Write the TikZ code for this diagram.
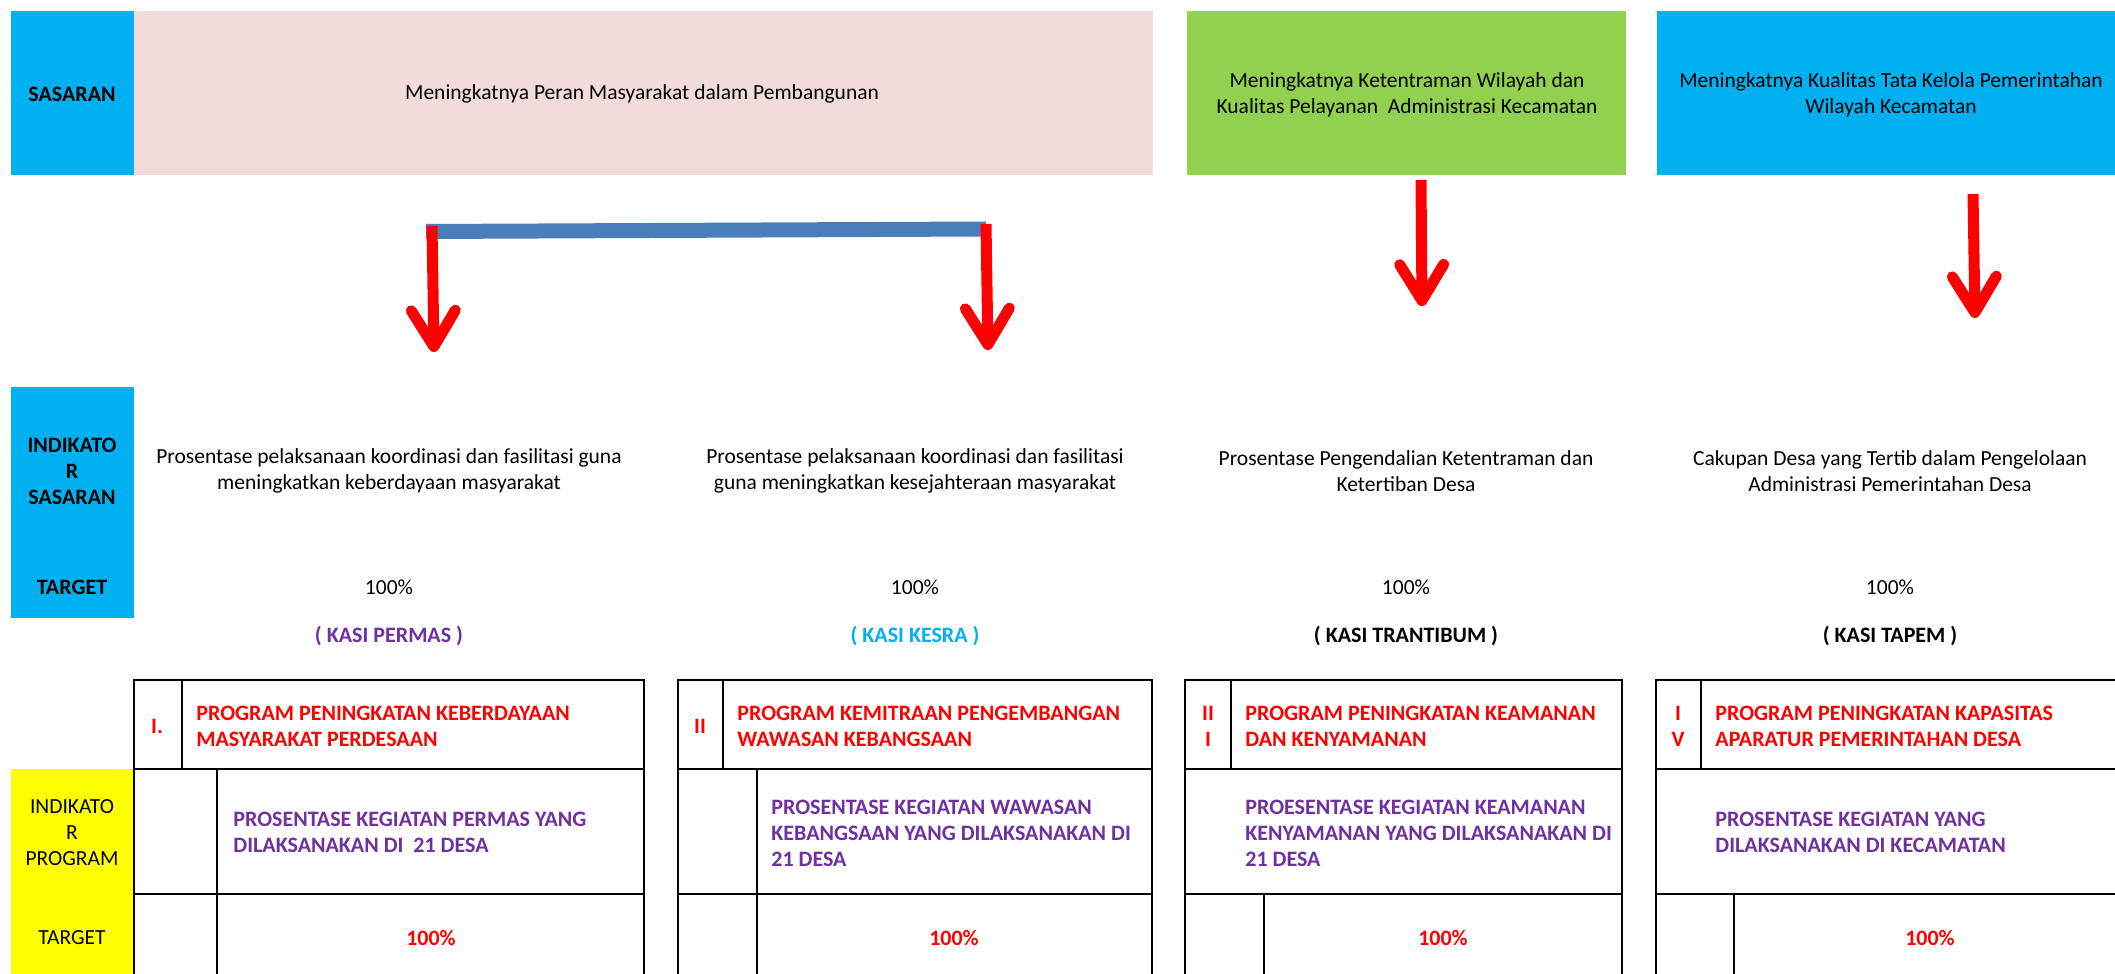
\documentclass[tikz,border=0pt]{standalone}
\usepackage{fontspec}
\setmainfont{Carlito}
\usetikzlibrary{arrows.meta}
\definecolor{skyblue}{HTML}{00B0F0}
\definecolor{pinkfill}{HTML}{F2DCDB}
\definecolor{limefill}{HTML}{92D050}
\definecolor{yellowfill}{HTML}{FFFF00}
\definecolor{purpletext}{HTML}{7030A0}
\definecolor{redtext}{HTML}{FF0000}
\definecolor{barblue}{HTML}{4A7EBB}
\newcommand{\cellfont}{\fontsize{10.75pt}{13pt}\selectfont}
\newcommand{\cellbold}{\fontsize{11pt}{13pt}\selectfont\bfseries}
\tikzset{
    txt/.style={inner sep=0pt, align=center, font=\cellfont},
    boldtxt/.style={txt, font=\cellbold},
    progtxt/.style={inner sep=0pt, anchor=west, align=left, font=\cellbold},
    tabline/.style={line width=1pt},
    downarrow/.style={draw=redtext, line width=5.5pt, -{Straight Barb[round, length=18pt, width=22pt]}}
}
\begin{document}
\begin{tikzpicture}[x=0.5pt, y=-0.5pt]
    \clip (0,0) rectangle (2115,974);
    \fill[white] (0,0) rectangle (2115,974);

    \fill[skyblue] (11,11) rectangle (134,175);
    \fill[pinkfill] (134,11) rectangle (1153,175);
    \fill[limefill] (1187,11) rectangle (1626,175);
    \fill[skyblue] (1657,11) rectangle (2125,175);
    \fill[skyblue] (11,387) rectangle (134,618);
    \fill[yellowfill] (11,769) rectangle (134,990);

    \node[boldtxt] at (72,94) (sasaran) {SASARAN};
    \node[txt] at (642,94) (sas1) {Meningkatnya Peran Masyarakat dalam Pembangunan};
    \node[txt] at (1407,95) (sas2) {Meningkatnya Ketentraman Wilayah dan\\Kualitas Pelayanan\ \ Administrasi Kecamatan};
    \node[txt] at (1891,95) (sas3) {Meningkatnya Kualitas Tata Kelola Pemerintahan\\Wilayah Kecamatan};

    \coordinate (barL) at (426,231.5);
    \coordinate (barR) at (986,229);
    \coordinate (a1s) at (432,226);
    \coordinate (a1e) at (434,352);
    \coordinate (a2s) at (986,224);
    \coordinate (a2e) at (988,350);
    \coordinate (a3s) at (1421,180);
    \coordinate (a3e) at (1422,306);
    \coordinate (a4s) at (1973,194);
    \coordinate (a4e) at (1975,318);
    \draw[barblue, line width=7.5pt] (barL) -- (barR);
    \draw[downarrow] (a1s) -- (a1e);
    \draw[downarrow] (a2s) -- (a2e);
    \draw[downarrow] (a3s) -- (a3e);
    \draw[downarrow] (a4s) -- (a4e);

    \node[boldtxt] at (72,471) (indsas) {INDIKATO\\R\\SASARAN};
    \node[boldtxt] at (72,587) (tgtsas) {TARGET};
    \node[txt] at (389,471) (ind1) {Prosentase pelaksanaan koordinasi dan fasilitasi guna\\meningkatkan keberdayaan masyarakat};
    \node[txt] at (915,471) (ind2) {Prosentase pelaksanaan koordinasi dan fasilitasi\\guna meningkatkan kesejahteraan masyarakat};
    \node[txt] at (1406,471) (ind3) {Prosentase Pengendalian Ketentraman dan\\Ketertiban Desa};
    \node[txt] at (1890,471) (ind4) {Cakupan Desa yang Tertib dalam Pengelolaan\\Administrasi Pemerintahan Desa};

    \node[txt] at (389,587) (pct1) {100\%};
    \node[txt] at (915,587) (pct2) {100\%};
    \node[txt] at (1406,587) (pct3) {100\%};
    \node[txt] at (1890,587) (pct4) {100\%};

    \node[boldtxt, text=purpletext] at (389,636) (kasi1) {( KASI PERMAS )};
    \node[boldtxt, text=skyblue] at (915,636) (kasi2) {( KASI KESRA )};
    \node[boldtxt] at (1406,636) (kasi3) {( KASI TRANTIBUM )};
    \node[boldtxt] at (1890,636) (kasi4) {( KASI TAPEM )};

    \foreach \l/\r/\n/\d/\t in {134/644/182/217/769, 678/1152/723/757/769, 1185/1622/1231/1264/894, 1656/2130/1701/1734/894}{
        \draw[tabline] (\l,680) rectangle (\r,1000);
        \draw[tabline] (\l,769) -- (\r,769);
        \draw[tabline] (\l,894) -- (\r,894);
        \draw[tabline] (\n,680) -- (\n,769);
        \draw[tabline] (\d,\t) -- (\d,1000);
    }

    \node[txt] at (72,833) (indprog) {INDIKATO\\R\\PROGRAM};
    \node[txt] at (72,938) (tgtprog) {TARGET};

    \node[boldtxt, text=redtext] at (157,726) (num1) {I.};
    \node[boldtxt, text=redtext] at (700,726) (num2) {II};
    \node[boldtxt, text=redtext] at (1208,726) (num3) {II\\I};
    \node[boldtxt, text=redtext] at (1678,726) (num4) {I\\V};

    \node[progtxt, text=redtext] at (196,726) (prog1) {PROGRAM PENINGKATAN KEBERDAYAAN\\MASYARAKAT PERDESAAN};
    \node[progtxt, text=redtext] at (737,726) (prog2) {PROGRAM KEMITRAAN PENGEMBANGAN\\WAWASAN KEBANGSAAN};
    \node[progtxt, text=redtext] at (1245,726) (prog3) {PROGRAM PENINGKATAN KEAMANAN\\DAN KENYAMANAN};
    \node[progtxt, text=redtext] at (1715,726) (prog4) {PROGRAM PENINGKATAN KAPASITAS\\APARATUR PEMERINTAHAN DESA};

    \node[progtxt, text=purpletext] at (233,832) (kpi1) {PROSENTASE KEGIATAN PERMAS YANG\\DILAKSANAKAN DI\ \ 21 DESA};
    \node[progtxt, text=purpletext] at (771,833) (kpi2) {PROSENTASE KEGIATAN WAWASAN\\KEBANGSAAN YANG DILAKSANAKAN DI\\21 DESA};
    \node[progtxt, text=purpletext] at (1245,833) (kpi3) {PROESENTASE KEGIATAN KEAMANAN\\KENYAMANAN YANG DILAKSANAKAN DI\\21 DESA};
    \node[progtxt, text=purpletext] at (1715,832) (kpi4) {PROSENTASE KEGIATAN YANG\\DILAKSANAKAN DI KECAMATAN};

    \node[boldtxt, text=redtext] at (431,938) (val1) {100\%};
    \node[boldtxt, text=redtext] at (954,938) (val2) {100\%};
    \node[boldtxt, text=redtext] at (1443,938) (val3) {100\%};
    \node[boldtxt, text=redtext] at (1930,938) (val4) {100\%};
\end{tikzpicture}
\end{document}
